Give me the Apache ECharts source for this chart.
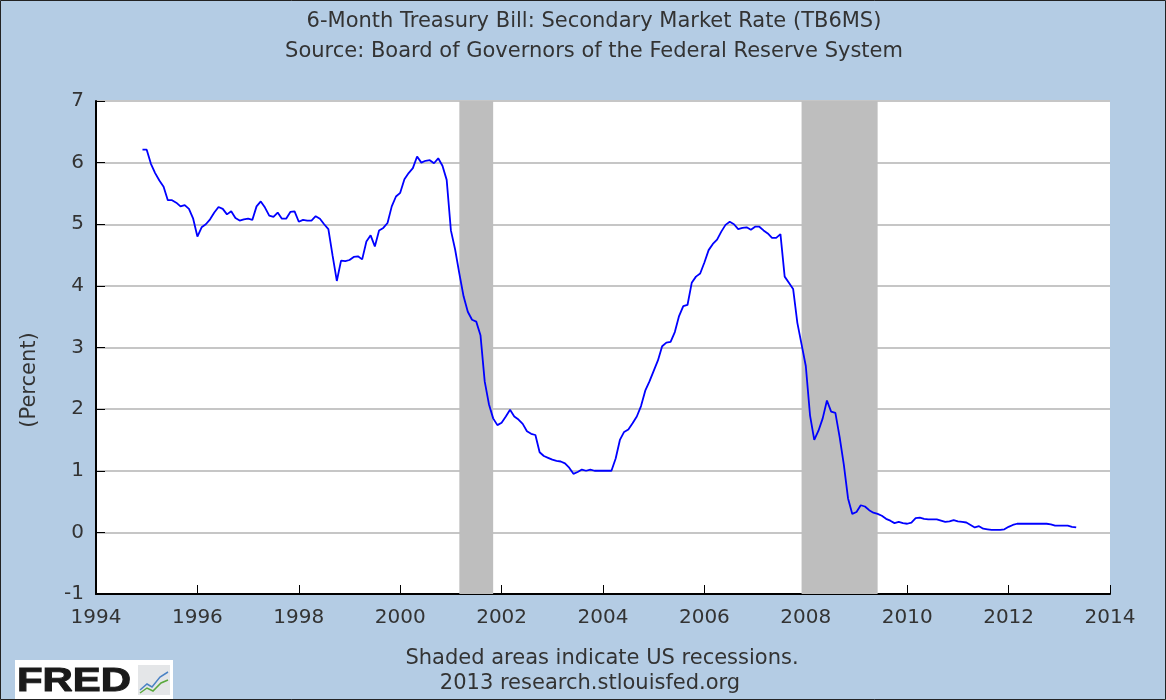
<!DOCTYPE html>
<html>
<head>
    <meta charset="utf-8">
    <script src="https://cdn.jsdelivr.net/npm/echarts@6/dist/echarts.min.js"></script>
</head>
<body style="margin:0">
    <div id="main" style="width: 1166px; height: 700px"></div>
    <script type="text/javascript">
        // monthly TB6MS, first value is Dec 1994
        var startYear = 1994, startMonth = 12;
        var rates = [
            6.21, 6.21, 5.98, 5.83, 5.71, 5.61, 5.39, 5.39, 5.35, 5.29, 5.31, 5.25,
            5.09, 4.80, 4.95, 5.00, 5.08, 5.19, 5.28, 5.25, 5.16, 5.21, 5.10, 5.06,
            5.08, 5.09, 5.07, 5.29, 5.37, 5.27, 5.14, 5.12, 5.19, 5.09, 5.09, 5.20,
            5.21, 5.04, 5.07, 5.06, 5.06, 5.13, 5.09, 5.00, 4.92, 4.49, 4.08, 4.41,
            4.40, 4.42, 4.47, 4.48, 4.43, 4.72, 4.82, 4.64, 4.90, 4.94, 5.02, 5.29,
            5.45, 5.51, 5.73, 5.83, 5.91, 6.10, 6.00, 6.03, 6.04, 5.99, 6.07, 5.95,
            5.72, 4.90, 4.59, 4.20, 3.83, 3.58, 3.45, 3.42, 3.20, 2.45, 2.08, 1.85,
            1.74, 1.78, 1.88, 1.99, 1.88, 1.83, 1.76, 1.64, 1.60, 1.58, 1.30, 1.24,
            1.21, 1.18, 1.16, 1.15, 1.12, 1.05, 0.95, 0.98, 1.02, 1.00, 1.02, 1.00,
            1.00, 1.00, 1.00, 1.00, 1.20, 1.50, 1.63, 1.67, 1.77, 1.88, 2.05, 2.30,
            2.45, 2.62, 2.79, 3.02, 3.08, 3.09, 3.25, 3.51, 3.67, 3.69, 4.05, 4.15,
            4.20, 4.38, 4.58, 4.68, 4.75, 4.88, 4.99, 5.04, 5.00, 4.92, 4.94, 4.95,
            4.91, 4.96, 4.96, 4.90, 4.85, 4.78, 4.78, 4.84, 4.15, 4.05, 3.95, 3.40,
            3.05, 2.70, 1.90, 1.50, 1.65, 1.85, 2.14, 1.96, 1.94, 1.55, 1.10, 0.55,
            0.30, 0.33, 0.44, 0.42, 0.36, 0.32, 0.30, 0.27, 0.22, 0.19, 0.15, 0.17,
            0.15, 0.14, 0.16, 0.23, 0.24, 0.22, 0.21, 0.21, 0.21, 0.19, 0.17, 0.18,
            0.20, 0.18, 0.17, 0.16, 0.12, 0.08, 0.10, 0.06, 0.05, 0.04, 0.04, 0.04,
            0.05, 0.09, 0.12, 0.14, 0.14, 0.14, 0.14, 0.14, 0.14, 0.14, 0.14, 0.13,
            0.11, 0.11, 0.11, 0.11, 0.09, 0.08
        ];
        // recession start / end months [year, month]
        var recessions = [
            [[2001, 3], [2001, 11]],
            [[2007, 12], [2009, 6]]
        ];
        var xTicks = [1994, 2014, 2];
        var yTicks = [-1, 7, 1];

        function decYear(y, m) {
            return y + (m - 1) / 12;
        }

        var serie = [];
        for (var i = 0; i < rates.length; i++) {
            var mm = startMonth - 1 + i;
            var y = startYear + Math.floor(mm / 12);
            var m = (mm % 12) + 1;
            serie.push([decYear(y, m), rates[i]]);
        }

        var areas = [];
        for (var j = 0; j < recessions.length; j++) {
            var r = recessions[j];
            areas.push([{ xAxis: decYear(r[0][0], r[0][1]) }, { xAxis: decYear(r[1][0], r[1][1]) }]);
        }

        var font = 'DejaVu Sans';
        var txt = '21px "DejaVu Sans"';
        var myChart = echarts.init(document.getElementById('main'));
        var option = {
            backgroundColor: '#b4cce4',
            animation: false,
            textStyle: { fontFamily: font },
            grid: {
                left: 96, right: 56, top: 101, bottom: 106,
                show: true, backgroundColor: '#ffffff', borderWidth: 0
            },
            xAxis: {
                type: 'value',
                min: xTicks[0], max: xTicks[1], interval: xTicks[2],
                axisLine: { show: true, onZero: false, lineStyle: { color: '#000', width: 2 } },
                axisTick: { show: true, inside: true, length: 9, lineStyle: { color: '#000', width: 1 } },
                splitLine: { show: false },
                axisLabel: {
                    color: '#333', fontSize: 20, margin: 14, fontFamily: font,
                    formatter: function (v) { return String(v); }
                }
            },
            yAxis: {
                type: 'value',
                min: yTicks[0], max: yTicks[1], interval: yTicks[2],
                axisLine: { show: true, onZero: false, lineStyle: { color: '#000', width: 2 } },
                axisTick: { show: true, inside: true, length: 9, lineStyle: { color: '#000', width: 1 } },
                splitLine: { show: true, lineStyle: { color: '#c6c6c6', width: 2 } },
                axisLabel: { color: '#333', fontSize: 20, margin: 12, fontFamily: font }
            },
            series: [
                {
                    type: 'line',
                    data: [],
                    silent: true,
                    z: 1,
                    markArea: {
                        silent: true,
                        itemStyle: { color: '#bebebe', opacity: 1 },
                        data: areas
                    }
                },
                {
                    name: 'TB6MS',
                    type: 'line',
                    data: serie,
                    z: 3,
                    symbol: 'none',
                    lineStyle: { color: '#0000ff', width: 1.8 }
                }
            ],
            graphic: [
                {
                    type: 'text', x: 594, y: 22,
                    style: { text: '6-Month Treasury Bill: Secondary Market Rate (TB6MS)', fill: '#333', font: txt, align: 'center', verticalAlign: 'middle' }
                },
                {
                    type: 'text', x: 594, y: 52,
                    style: { text: 'Source: Board of Governors of the Federal Reserve System', fill: '#333', font: txt, align: 'center', verticalAlign: 'middle' }
                },
                {
                    type: 'text', x: 30, y: 380, rotation: Math.PI / 2,
                    style: { text: '(Percent)', fill: '#333', font: txt, align: 'center', verticalAlign: 'middle' }
                },
                {
                    type: 'text', x: 602, y: 659,
                    style: { text: 'Shaded areas indicate US recessions.', fill: '#333', font: txt, align: 'center', verticalAlign: 'middle' }
                },
                {
                    type: 'text', x: 590, y: 684,
                    style: { text: '2013 research.stlouisfed.org', fill: '#333', font: txt, align: 'center', verticalAlign: 'middle' }
                },
                {
                    type: 'rect', shape: { x: 15, y: 660, width: 158, height: 40 },
                    style: { fill: '#ffffff' }
                },
                {
                    type: 'text', x: 17, y: 682, scaleX: 1.27,
                    style: { text: 'FRED', fill: '#1a1a1a', font: 'bold 33px "Liberation Sans"', verticalAlign: 'middle', stroke: '#1a1a1a', lineWidth: 1 }
                },
                {
                    type: 'rect', shape: { x: 138, y: 665, width: 32, height: 30 },
                    style: { fill: '#e4e6e8' }
                },
                {
                    type: 'polyline', shape: { points: [[140, 690], [147, 684], [152, 687], [160, 677], [168, 672]] },
                    style: { stroke: '#4a82c4', lineWidth: 1.5, fill: null }
                },
                {
                    type: 'polyline', shape: { points: [[140, 693], [147, 688], [153, 691], [161, 683], [168, 680]] },
                    style: { stroke: '#5aa83c', lineWidth: 1.5, fill: null }
                },
                {
                    type: 'rect', shape: { x: 0.5, y: 0.5, width: 1165, height: 699 },
                    style: { fill: null, stroke: '#222', lineWidth: 1 }
                }
            ]
        };
        myChart.setOption(option);
    </script>
</body>
</html>
